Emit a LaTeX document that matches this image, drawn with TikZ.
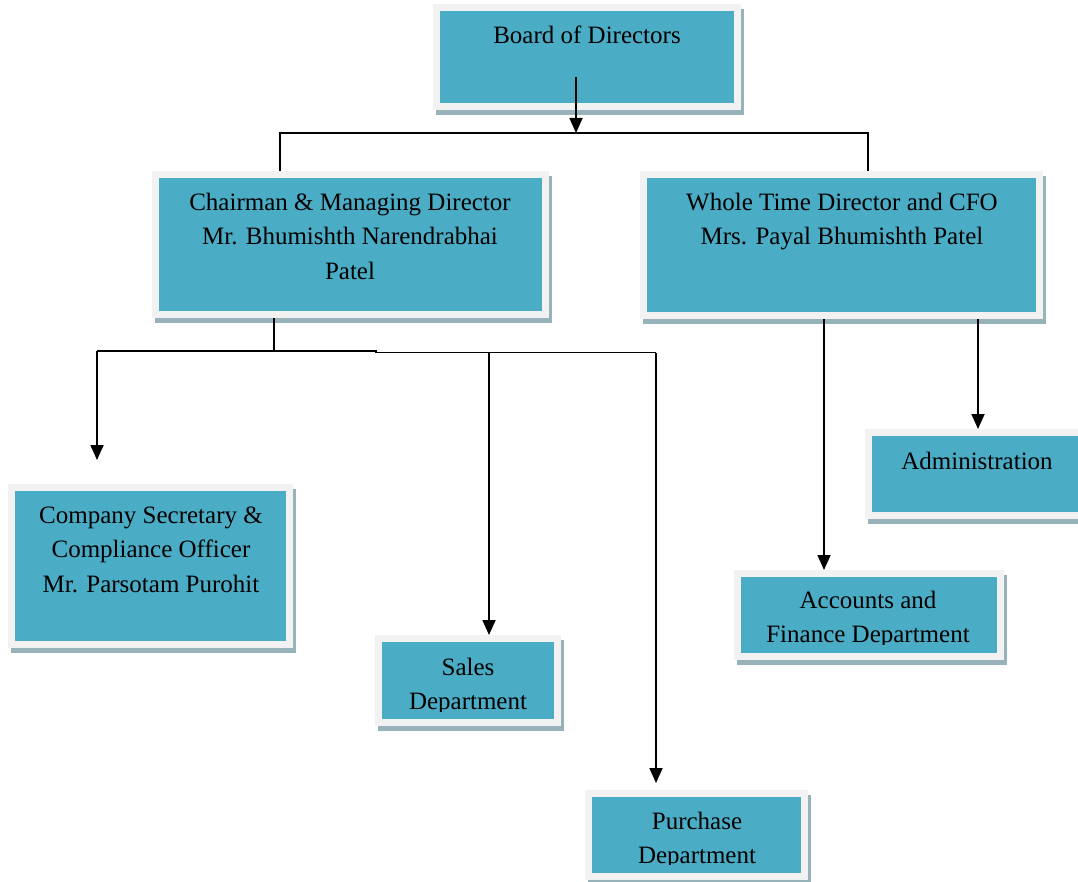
\documentclass[tikz,border=0pt]{standalone}
\usepackage{fontspec}
\setmainfont{Liberation Serif}
\usetikzlibrary{arrows.meta,shadows}
\definecolor{tealc}{HTML}{4BACC6}
\definecolor{framec}{HTML}{F2F2F2}
\definecolor{shadowc}{HTML}{98B2B9}
\tikzset{
  frame/.style={fill=framec, inner sep=0pt, draw=none,
    drop shadow={shadow xshift=3pt, shadow yshift=-5pt, fill=shadowc, opacity=1}},
  txt/.style={font=\fontsize{25}{34.5}\selectfont, align=center, inner sep=0pt, anchor=north},
  conn/.style={line width=1.8pt, black},
  arr/.style={conn, -{Triangle[width=13pt,length=15pt]}}
}
\newcommand\orgbox[5]{%
  \node[frame, anchor=north west, minimum width={(#4-#2)*1pt}, minimum height={(#5-#3)*1pt}] (#1) at (#2,#3) {};
  \fill[tealc] ([shift={(7,7)}]#1.north west) rectangle ([shift={(-7,-7)}]#1.south east);
}
\begin{document}
\begin{tikzpicture}[x=1pt,y=-1pt]
\clip (0,0) rectangle (1078,882);
\fill[white] (0,0) rectangle (1078,882);
% boxes
\orgbox{board}{433}{4}{741}{110}
\orgbox{chair}{152}{171}{549}{318}
\orgbox{wtd}{640}{171}{1043}{319}
\orgbox{cs}{8}{484}{293}{648}
\orgbox{sales}{375}{635}{561}{726}
\orgbox{admin}{865}{429}{1090}{519}
\orgbox{acc}{734}{570}{1004}{660}
\orgbox{pur}{585}{790}{808}{880}
% texts
\node[txt] (board-t) at (587,18.85) {Board of Directors\strut};
\node[txt] (chair-t) at (350,185.85) {Chairman \& Managing Director\strut\\Mr. Bhumishth Narendrabhai\strut\\Patel\strut};
\node[txt] (wtd-t) at (842,185.85) {Whole Time Director and CFO\strut\\Mrs. Payal Bhumishth Patel\strut};
\node[txt] (cs-t) at (151,498.85) {Company Secretary \&\strut\\Compliance Officer\strut\\Mr. Parsotam Purohit\strut};
\node[txt] (admin-t) at (977,444.85) {Administration\strut};
\begin{scope}
  \clip (375,600) rectangle (561,711);
  \node[txt] (sales-t) at (468,650.85) {Sales\strut\\Department\strut};
\end{scope}
\begin{scope}
  \clip (734,560) rectangle (1004,644);
  \node[txt] (acc-t) at (868,583.85) {Accounts and\strut\\Finance Department\strut};
\end{scope}
\begin{scope}
  \clip (585,780) rectangle (808,864);
  \node[txt] (pur-t) at (697,804.85) {Purchase\strut\\Department\strut};
\end{scope}
% junction coordinates
\coordinate (b0) at (576,77);
\coordinate (b1) at (576,133);
\coordinate (jl) at (280,133);
\coordinate (jr) at (868,133);
\coordinate (cd) at (274,351);
\coordinate (hl) at (97,351);
\coordinate (hm1) at (376,351);
\coordinate (hm2) at (376,352.5);
\coordinate (hs) at (489,352.5);
\coordinate (hp) at (656,352.5);
\coordinate (cs-tip) at (97,460);
\coordinate (pur-tip) at (656,783);
\coordinate (ac) at (824,330);
\coordinate (ad) at (978,330);
% connectors
\draw[arr] (b0) -- (b1);
\draw[conn] (jl |- chair.north) -- (jl) -- (jr) -- (jr |- wtd.north);
\draw[conn] (cd |- chair.south) -- (cd);
\draw[conn] (hl) -- (hm1) -- (hm2) -- (hp);
\draw[arr] (hl) -- (cs-tip);
\draw[arr] (hs) -- (hs |- sales.north);
\draw[arr] (hp) -- (pur-tip);
\draw[arr] (ac |- wtd.south) -- (ac |- acc.north);
\draw[arr] (ad |- wtd.south) -- (ad |- admin.north);
\end{tikzpicture}
\end{document}
